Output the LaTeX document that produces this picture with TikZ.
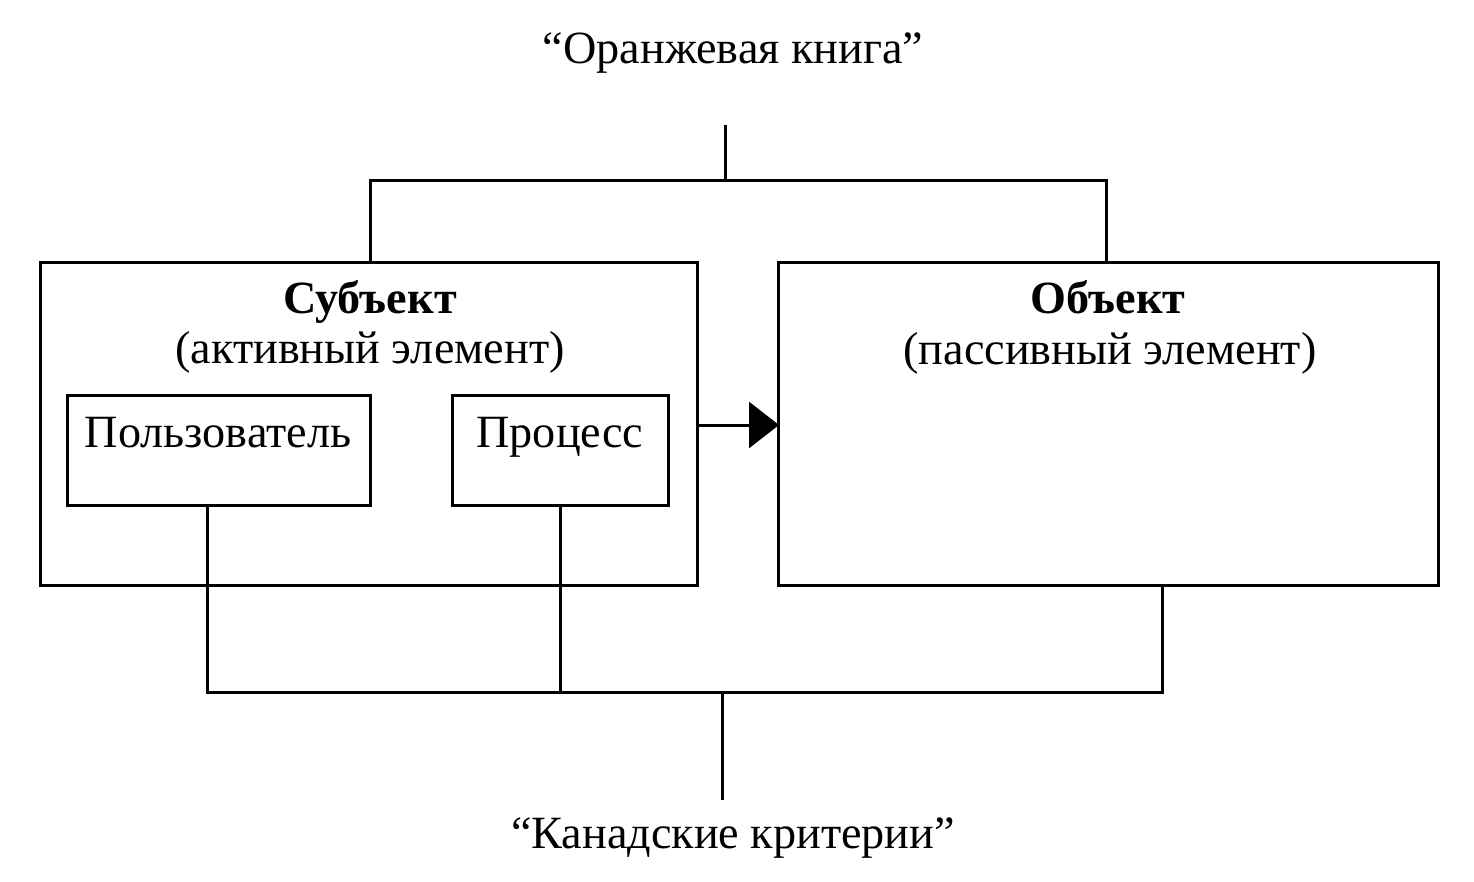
\documentclass[tikz,border=0pt]{standalone}
\usepackage{fontspec}
\setmainfont{Liberation Serif}
\usetikzlibrary{arrows.meta}
\begin{document}
\begin{tikzpicture}[x=0.02cm,y=-0.02cm,
  ln/.style={line width=0.06cm},
  boxx/.style={draw,line width=0.06cm},
  txt/.style={font=\fontsize{26.3}{30}\selectfont, inner sep=0pt, anchor=base},
  bx/.style={font=\fontsize{26.3}{30}\selectfont\bfseries, inner sep=0pt, anchor=base}]
\useasboundingbox (0,0) rectangle (1474,882);
% texts top/bottom
\node[txt] (ob) at (733,64) {“Оранжевая книга”};
\node[txt] (kk) at (733,848) {“Канадские критерии”};
% big boxes
\draw[boxx] (40,262) rectangle (697,585);
\draw[boxx] (778,262) rectangle (1438,585);
\node[bx] (subj) at (370,313) {Субъект};
\node[txt] (subjd) at (370,363) {(активный элемент)};
\node[bx] (obj) at (1108,313) {Объект};
\node[txt] (objd) at (1110,364) {(пассивный элемент)};
% inner boxes
\draw[boxx] (67,395) rectangle (370,505);
\draw[boxx] (452,395) rectangle (668,505);
\node[txt] (user) at (218,447) {Пользователь};
\node[txt] (proc) at (560,447) {Процесс};
% coordinates
\coordinate (t1) at (725,125);
\coordinate (t2) at (725,180);
\coordinate (tl) at (370,180);
\coordinate (tr) at (1106,180);
\coordinate (tlb) at (370,262);
\coordinate (trb) at (1106,262);
\coordinate (aS) at (697,425);
\coordinate (aE) at (779,425);
\coordinate (u1) at (207,505);
\coordinate (u2) at (207,692);
\coordinate (p1) at (560,505);
\coordinate (p2) at (560,692);
\coordinate (o1) at (1162,585);
\coordinate (o2) at (1162,692);
\coordinate (b1) at (722,692);
\coordinate (b2) at (722,800);
% top connectors
\draw[ln] (t1) -- (t2);
\draw[ln] (tlb) -- (tl) -- (tr) -- (trb);
% arrow
\draw[ln,-{Triangle[length=0.6cm,width=0.92cm]}] (aS) -- (aE);
% bottom connectors
\draw[ln] (u1) -- (u2) -- (o2) -- (o1);
\draw[ln] (p1) -- (p2);
\draw[ln] (b1) -- (b2);
\end{tikzpicture}
\end{document}
